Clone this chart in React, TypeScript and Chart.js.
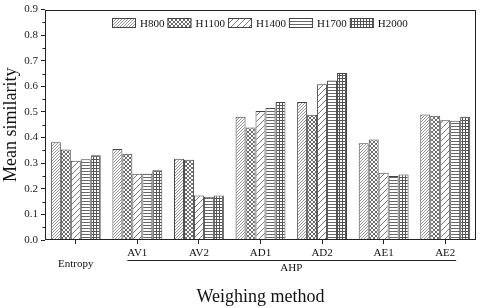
import React, { useEffect, useRef } from 'react';
import { Chart, registerables } from 'chart.js';

Chart.register(...registerables);

const categories = ['Entropy', 'AV1', 'AV2', 'AD1', 'AD2', 'AE1', 'AE2'];
const seriesNames = ['H800', 'H1100', 'H1400', 'H1700', 'H2000'];
const H800 = [0.382, 0.355, 0.317, 0.481, 0.539, 0.378, 0.49];
const H1100 = [0.354, 0.337, 0.313, 0.439, 0.489, 0.393, 0.485];
const H1400 = [0.31, 0.259, 0.174, 0.504, 0.608, 0.263, 0.468];
const H1700 = [0.315, 0.259, 0.169, 0.516, 0.623, 0.25, 0.466];
const H2000 = [0.331, 0.272, 0.174, 0.539, 0.652, 0.256, 0.481];
const yMin = 0;
const yMax = 0.9;
const yStep = 0.1;
const groupLabel = 'AHP';
const groupFirst = 1;
const groupLast = 6;
const yTitle = 'Mean similarity';
const xTitle = 'Weighing method';

const FONT = "'Liberation Serif', 'Times New Roman', serif";

function makePattern(kind: string): CanvasPattern | string {
  const c = document.createElement('canvas');
  let s = 4;
  if (kind === 'fine') s = 3;
  if (kind === 'wide') s = 6;
  if (kind === 'horiz' || kind === 'grid') s = 3;
  c.width = s;
  c.height = s;
  const g = c.getContext('2d')!;
  g.fillStyle = '#fff';
  g.fillRect(0, 0, s, s);
  g.lineWidth = 1;
  const diag = (color: string, lw: number) => {
    g.strokeStyle = color;
    g.lineWidth = lw;
    g.beginPath();
    g.moveTo(-1, s + 1);
    g.lineTo(s + 1, -1);
    g.moveTo(-1, 1);
    g.lineTo(1, -1);
    g.moveTo(s - 1, s + 1);
    g.lineTo(s + 1, s - 1);
    g.stroke();
  };
  const anti = (color: string, lw: number) => {
    g.strokeStyle = color;
    g.lineWidth = lw;
    g.beginPath();
    g.moveTo(-1, -1);
    g.lineTo(s + 1, s + 1);
    g.moveTo(s - 1, -1);
    g.lineTo(s + 1, 1);
    g.moveTo(-1, s - 1);
    g.lineTo(1, s + 1);
    g.stroke();
  };
  if (kind === 'fine') {
    diag('#8a8a8a', 0.9);
  } else if (kind === 'cross') {
    diag('#5a5a5a', 0.9);
    anti('#5a5a5a', 0.9);
  } else if (kind === 'wide') {
    diag('#555', 0.8);
  } else if (kind === 'horiz') {
    g.fillStyle = '#666';
    g.fillRect(0, 0, s, 1);
  } else if (kind === 'grid') {
    g.fillStyle = '#555';
    g.fillRect(0, 0, s, 1);
    g.fillRect(0, 0, 1, s);
  }
  const p = g.createPattern(c, 'repeat');
  return p || '#999';
}

export default function App() {
  const ref = useRef<HTMLCanvasElement>(null);

  useEffect(() => {
    if (!ref.current) return;
    const kinds = ['fine', 'cross', 'wide', 'horiz', 'grid'];
    const allData = [H800, H1100, H1400, H1700, H2000];
    const patterns = kinds.map((k) => makePattern(k));

    const decor = {
      id: 'decor',
      afterDraw(chart: any) {
        const ctx = chart.ctx as CanvasRenderingContext2D;
        const { left, right, top, bottom } = chart.chartArea;
        const xs = chart.scales.x;
        const ys = chart.scales.y;
        ctx.save();
        // frame
        ctx.strokeStyle = '#222';
        ctx.lineWidth = 1;
        ctx.strokeRect(Math.round(left) + 0.5, Math.round(top) + 0.5, Math.round(right - left) - 1, Math.round(bottom - top) - 1);
        // minor y ticks
        for (let v = yMin + yStep / 2; v < yMax; v += yStep) {
          const y = Math.round(ys.getPixelForValue(v)) + 0.5;
          ctx.beginPath();
          ctx.moveTo(left - 2.5, y);
          ctx.lineTo(left, y);
          ctx.stroke();
        }
        // x labels
        ctx.fillStyle = '#111';
        ctx.textAlign = 'center';
        ctx.textBaseline = 'middle';
        categories.forEach((c, i) => {
          const x = xs.getPixelForValue(i);
          ctx.font = `11px ${FONT}`;
          ctx.fillText(c, x, i === 0 ? 264 : 253);
        });
        // group line
        const gx1 = xs.getPixelForValue(groupFirst) - 10;
        const gx2 = xs.getPixelForValue(groupLast) + 11;
        ctx.beginPath();
        ctx.moveTo(gx1, 260.5);
        ctx.lineTo(gx2, 260.5);
        ctx.stroke();
        ctx.font = `11px ${FONT}`;
        ctx.fillText(groupLabel, (xs.getPixelForValue(groupFirst) + xs.getPixelForValue(groupLast)) / 2, 268);
        // x title
        ctx.font = `18px ${FONT}`;
        ctx.fillText(xTitle, (left + right) / 2, 297);
        // legend
        ctx.font = `11px ${FONT}`;
        const boxW = 24;
        const boxH = 10;
        const gap = 4;
        const itemGap = 3;
        const widths = seriesNames.map((n) => ctx.measureText(n).width);
        const total = widths.reduce((a, w) => a + boxW + gap + w, 0) + itemGap * (seriesNames.length - 1);
        let x = Math.round((left + right) / 2 - total / 2) - 1;
        const cy = 23;
        ctx.textAlign = 'left';
        seriesNames.forEach((n, i) => {
          ctx.fillStyle = patterns[i] as any;
          ctx.fillRect(x, cy - boxH / 2, boxW, boxH);
          ctx.strokeStyle = '#444';
          ctx.strokeRect(x + 0.5, cy - boxH / 2 + 0.5, boxW - 1, boxH - 1);
          ctx.fillStyle = '#111';
          ctx.fillText(n, x + boxW + gap, cy + 1);
          x += boxW + gap + widths[i] + itemGap;
        });
        ctx.restore();
      },
    };

    const chart = new Chart(ref.current, {
      type: 'bar',
      data: {
        labels: categories,
        datasets: seriesNames.map((n, i) => ({
          label: n,
          data: allData[i],
          backgroundColor: patterns[i] as any,
          borderColor: '#444',
          borderWidth: 1,
          barPercentage: 1,
          categoryPercentage: 0.81,
        })),
      },
      options: {
        responsive: false,
        animation: false,
        devicePixelRatio: 1,
        layout: { padding: { top: 7, right: 4, left: 0, bottom: 0 } },
        plugins: {
          legend: { display: false },
          tooltip: { enabled: false },
        },
        scales: {
          x: {
            offset: true,
            grid: {
              offset: false,
              drawOnChartArea: false,
              drawTicks: true,
              tickLength: 4,
              color: '#222',
            },
            border: { display: false },
            ticks: { display: false },
            afterFit: (s: any) => {
              s.height = 68;
            },
          },
          y: {
            min: yMin,
            max: yMax,
            grid: {
              drawOnChartArea: false,
              drawTicks: true,
              tickLength: 4,
              color: '#222',
            },
            border: { display: false },
            ticks: {
              stepSize: yStep,
              padding: 3,
              color: '#222',
              font: { family: FONT, size: 11 },
              callback: (v: any) => Number(v).toFixed(1),
            },
            title: {
              display: true,
              text: yTitle,
              color: '#111',
              font: { family: FONT, size: 18 },
              padding: { top: 0, bottom: 0 },
            },
            afterFit: (s: any) => {
              s.width = 45;
            },
          },
        },
      },
      plugins: [decor],
    });
    return () => chart.destroy();
  }, []);

  return (
    <div style={{ position: 'fixed', left: 0, top: 0, width: 480, height: 308, background: '#fff' }}>
      <canvas ref={ref} width={480} height={308} style={{ display: 'block' }} />
    </div>
  );
}
